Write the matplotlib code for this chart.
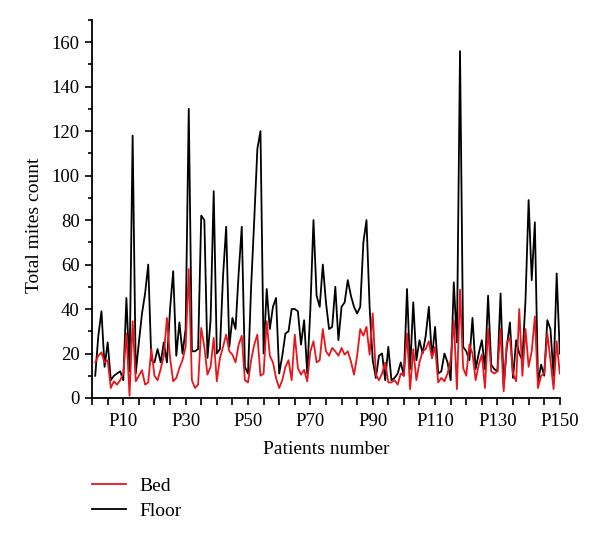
import matplotlib
matplotlib.use("Agg")
import matplotlib.pyplot as plt
from matplotlib.ticker import MultipleLocator

plt.rcParams['font.family'] = ['Liberation Serif', 'DejaVu Serif']

patients = list(range(1, 151))

floor = [10, 28, 39, 14, 25, 8, 10, 11, 12, 8,
         45, 12, 118, 11, 25, 38, 47, 60, 17, 16,
         22, 16, 25, 16, 40, 57, 19, 34, 20, 31,
         130, 21, 21, 22, 82, 80, 18, 35, 93, 20,
         22, 55, 77, 23, 36, 31, 56, 77, 14, 11,
         50, 80, 112, 120, 20, 49, 31, 41, 45, 11,
         19, 29, 30, 40, 40, 39, 24, 35, 11, 40,
         80, 46, 41, 60, 43, 31, 32, 50, 26, 41,
         43, 53, 46, 41, 38, 41, 70, 80, 41, 17,
         9, 19, 20, 8, 23, 8, 9, 11, 16, 10,
         49, 13, 43, 17, 26, 20, 28, 41, 18, 32,
         11, 12, 20, 16, 8, 52, 25, 156, 23, 21,
         17, 36, 13, 20, 26, 13, 46, 15, 13, 12,
         47, 5, 23, 34, 9, 26, 20, 17, 44, 89,
         53, 79, 7, 15, 10, 35, 31, 10, 56, 20]

bed = [16, 19, 20.5, 16, 17, 4.5, 7.5, 6, 8, 11,
       29, 1, 34.5, 7.5, 10, 12.5, 6, 7, 22, 10,
       8, 13, 19, 36, 18, 7.5, 9, 13.5, 17, 23,
       58, 8, 4.5, 6, 31.5, 23, 10.5, 14, 27, 7.5,
       18, 23, 28.5, 21, 19.5, 16, 24, 28, 8, 7,
       17, 24, 28.5, 10, 11, 34.5, 19, 16, 9, 4.5,
       8, 14, 17, 8, 28.5, 13.5, 10.5, 12.7, 7.5, 21,
       25.5, 16, 17, 31, 21, 19, 22.5, 21, 19, 22.5,
       19.5, 21, 16.5, 10.5, 19, 31, 28, 32, 19.5, 38,
       10.5, 8, 11, 16, 7, 7, 8, 6, 11, 10,
       29, 4, 22, 8, 16, 21, 22, 25.5, 18, 23,
       7, 9, 7.5, 11, 17, 35, 4, 48.7, 13.5, 10,
       24, 20, 8, 15, 19.5, 4.5, 31, 12, 11, 12,
       31, 3, 25, 27, 11, 7.5, 40, 10, 31, 14,
       21, 36.7, 4.5, 10, 11, 29, 17, 4, 25.5, 11]

xtick_values = list(range(0, 151, 5))
xtick_labels = [f"P{v}" if v % 20 == 10 else "" for v in xtick_values]

fig = plt.figure(figsize=(6.0, 5.39), dpi=100)
ax = fig.add_axes([0.1535, 0.2616, 0.7795, 0.7014])

ax.plot(patients, bed, color='#e8151b', lw=1.3, label='Bed', zorder=3)
ax.plot(patients, floor, color='black', lw=1.3, label='Floor', zorder=2)

ax.set_xlim(0, 150)
ax.set_ylim(0, 170)
ax.set_xticks(xtick_values)
ax.set_xticklabels(xtick_labels)
ax.set_yticks(range(0, 161, 20))
ax.yaxis.set_minor_locator(MultipleLocator(10))

for s in ['top', 'right']:
    ax.spines[s].set_visible(False)
for s in ['left', 'bottom']:
    ax.spines[s].set_linewidth(1.3)

ax.tick_params(axis='both', which='major', direction='out', length=5, width=1.2,
               labelsize=13.5, pad=4)
ax.tick_params(axis='x', which='major', pad=6)
ax.tick_params(axis='y', which='minor', direction='out', length=3, width=1.2)

ax.set_xlabel('Patients number', fontsize=14, labelpad=8)
ax.set_ylabel('Total mites count', fontsize=14, labelpad=10)
ax.yaxis.set_label_coords(-0.105, 0.458)

handles, labels = ax.get_legend_handles_labels()
fig.legend(handles, labels, loc='upper left', bbox_to_anchor=(0.153, 0.114),
           frameon=False, fontsize=14, handlelength=1.75, handletextpad=0.7,
           labelspacing=0.35, borderaxespad=0, borderpad=0)

fig.savefig('out.png', dpi=100)
